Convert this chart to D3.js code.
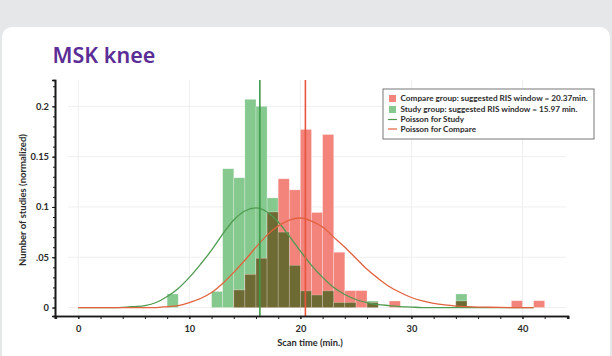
<!DOCTYPE html>
<html><head><meta charset="utf-8">
<script src="https://cdn.jsdelivr.net/npm/d3@7"></script>
<style>html,body{margin:0;padding:0;background:#e6e7e9;overflow:hidden}svg{display:block}</style>
</head><body><svg id="c" width="612" height="356"></svg>
<script>
// ---- data ----
const binStart = [8, 12, 13, 14, 15, 16, 17, 18, 19, 20, 21, 22, 23, 24, 25, 26, 28, 34, 39, 41];
const studyValues = [0.0135, 0.016, 0.138, 0.129, 0.207, 0.200, 0.109, 0.075, 0.042, 0.0166, 0.0125, 0.0166, 0.005, 0.005, 0, 0.0065, 0, 0.0135, 0, 0];
const compareValues = [0, 0, 0, 0.0175, 0.033, 0.049, 0.095, 0.128, 0.117, 0.177, 0.0945, 0.172, 0.055, 0.0168, 0.0168, 0.005, 0.0065, 0.0065, 0.0068, 0.0068];
const curveX = [0,1,2,3,4,5,6,7,8,9,10,11,12,13,14,15,16,17,18,19,20,21,22,23,24,25,26,27,28,29,30,31,32,33,34,35,36,37,38,39,40,41];
const poissonStudy = [0,0,0,0,0.0002,0.001,0.002,0.005,0.011,0.019,0.030,0.043,0.057,0.073,0.087,0.096,0.099,0.095,0.085,0.071,0.056,0.042,0.030,0.020,0.013,0.008,0.005,0.003,0.002,0.001,0.0005,0,0,0,0,0,0,0,0,0,0,0];
const poissonCompare = [0,0,0,0,0,0,0,0,0.001,0.002,0.005,0.009,0.015,0.024,0.035,0.047,0.060,0.072,0.081,0.087,0.089,0.086,0.080,0.070,0.060,0.049,0.038,0.029,0.021,0.015,0.010,0.0066,0.0042,0.0026,0.0015,0.0009,0.0005,0.0003,0.0001,0,0,0];
const windowStudy = 16.35;
const windowCompare = 20.45;
const xTicks = [0, 10, 20, 30, 40];
const xMinorTicks = [-2,0,2,4,6,8,10,12,14,16,18,20,22,24,26,28,30,32,34,36,38,40,42,44];
const yTicks = [0, 0.05, 0.1, 0.15, 0.2];
const yTickLabels = ["0", ".05", "0.1", "0.15", "0.2"];
const yMinorTicks = [0,0.01,0.02,0.03,0.04,0.05,0.06,0.07,0.08,0.09,0.1,0.11,0.12,0.13,0.14,0.15,0.16,0.17,0.18,0.19,0.2,0.21,0.22];
const legendLabels = ["Compare group: suggested RIS window = 20.37min.", "Study group: suggested RIS window = 15.97 min.", "Poisson for Study", "Poisson for Compare"];
const title = "MSK knee";
const xTitle = "Scan time (min.)";
const yTitle = "Number of studies (normalized)";

// ---- styles ----
const C = {green:"#85c98f", red:"#f2847c", olive:"#6d6a33", greenLine:"#3e9a48", redLine:"#e8553f", greenCurve:"#4f9b50", redCurve:"#e2623d", text:"#2b2b2b"};
const FONT = "Lato, 'Open Sans', sans-serif";

const svg = d3.select("#c");
svg.append("rect").attr("x",0).attr("y",0).attr("width",612).attr("height",356).attr("fill","#e6e7e9");
svg.append("rect").attr("x",2).attr("y",27).attr("width",608).attr("height",360).attr("rx",10).attr("fill","#fff");

svg.append("text").attr("x",52.5).attr("y",62.5).text(title)
  .attr("font-family","'Noto Sans', 'Open Sans', sans-serif").attr("font-weight",600)
  .attr("font-size",21.5).attr("fill","#5b2d96");

const x = d3.scaleLinear().domain([-2.1, 44.1]).range([55, 568]);
const y = d3.scaleLinear().domain([-0.0084, 0.2262]).range([316, 80]);

// gridlines
const g = svg.append("g");
g.selectAll(".vg").data(xTicks).join("line")
  .attr("x1",d=>x(d)).attr("x2",d=>x(d)).attr("y1",80).attr("y2",316)
  .attr("stroke","#efefef").attr("stroke-width",1);
g.selectAll(".hg").data(yTicks).join("line")
  .attr("x1",68).attr("x2",566).attr("y1",d=>y(d)).attr("y2",d=>y(d))
  .attr("stroke","#efefef").attr("stroke-width",1);

const bins = binStart.map((b,i)=>({b, s:studyValues[i], c:compareValues[i]}));
const bw = d=> x(d.b+1)-x(d.b);
function bars(cls, acc, fill){
  svg.append("g").selectAll("rect").data(bins.filter(d=>acc(d)>0)).join("rect")
    .attr("x",d=>x(d.b)).attr("width",bw)
    .attr("y",d=>y(acc(d))).attr("height",d=>y(0)-y(acc(d)))
    .attr("fill",fill).attr("stroke","rgba(255,255,255,0.35)").attr("stroke-width",0.7);
}
bars("s", d=>d.s, C.green);
bars("c", d=>d.c, C.red);
bars("o", d=>Math.min(d.s,d.c), C.olive);

const line = d3.line().x(d=>x(d[0])).y(d=>y(d[1])).curve(d3.curveMonotoneX);
svg.append("path").datum(curveX.map((v,i)=>[v,poissonStudy[i]])).attr("d",line)
  .attr("fill","none").attr("stroke",C.greenCurve).attr("stroke-width",1.3);
svg.append("path").datum(curveX.map((v,i)=>[v,poissonCompare[i]])).attr("d",line)
  .attr("fill","none").attr("stroke",C.redCurve).attr("stroke-width",1.3);

svg.append("line").attr("x1",x(windowStudy)).attr("x2",x(windowStudy)).attr("y1",80).attr("y2",316)
  .attr("stroke",C.greenLine).attr("stroke-width",1.6);
svg.append("line").attr("x1",x(windowCompare)).attr("x2",x(windowCompare)).attr("y1",80).attr("y2",316)
  .attr("stroke",C.redLine).attr("stroke-width",1.6);

// axes
const xa = svg.append("g").attr("transform","translate(0,316)");
xa.call(d3.axisBottom(x).tickValues(xMinorTicks).tickSize(3).tickFormat(""));
const xb = svg.append("g").attr("transform","translate(0,316)");
xb.call(d3.axisBottom(x).tickValues(xTicks).tickSize(3).tickPadding(6));
const ya = svg.append("g").attr("transform","translate(55,0)");
ya.call(d3.axisLeft(y).tickValues(yMinorTicks).tickSize(2).tickFormat(""));
const yb = svg.append("g").attr("transform","translate(55,0)");
yb.call(d3.axisLeft(y).tickValues(yTicks).tickSize(3).tickPadding(3).tickFormat((d,i)=>yTickLabels[i]));
[xa,xb,ya,yb].forEach(a=>{
  a.select(".domain").attr("stroke","#1a1a1a").attr("stroke-width",1.6);
  a.selectAll(".tick line").attr("stroke","#1a1a1a");
  a.selectAll("text").attr("font-family",FONT).attr("font-weight",700).attr("font-size",9.3).attr("fill",C.text);
});

svg.append("text").attr("x",310).attr("y",346).attr("text-anchor","middle").text(xTitle)
  .attr("font-family",FONT).attr("font-weight",700).attr("font-size",9.3).attr("fill",C.text);
svg.append("text").attr("transform","translate(26,200) rotate(-90)").attr("text-anchor","middle").text(yTitle)
  .attr("font-family",FONT).attr("font-weight",700).attr("font-size",9.5).attr("fill",C.text);

// legend
const lg = svg.append("g");
lg.append("rect").attr("x",383).attr("y",89).attr("width",211).attr("height",50)
  .attr("fill","#fff").attr("stroke","#777").attr("stroke-width",1);
const rowsY = [98.5, 109.5, 119.5, 129];
const kinds = [{t:"sq",c:C.red},{t:"sq",c:C.green},{t:"ln",c:C.greenCurve},{t:"ln",c:C.redCurve}];
legendLabels.forEach((lab,i)=>{
  const k = kinds[i];
  if(k.t==="sq") lg.append("rect").attr("x",389).attr("y",rowsY[i]-3.5).attr("width",7).attr("height",7).attr("fill",k.c);
  else lg.append("line").attr("x1",388).attr("x2",397).attr("y1",rowsY[i]).attr("y2",rowsY[i]).attr("stroke",k.c).attr("stroke-width",1.2);
  lg.append("text").attr("x",400.5).attr("y",rowsY[i]+2.8).text(lab)
    .attr("font-family",FONT).attr("font-weight",700).attr("font-size",8.2).attr("fill",C.text);
});
</script></body></html>
